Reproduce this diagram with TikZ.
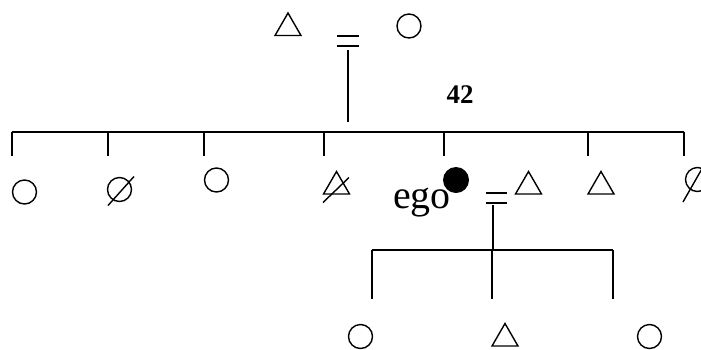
\documentclass[tikz,border=0pt]{standalone}
\usepackage{fontspec}
\setmainfont{Liberation Serif}
\usetikzlibrary{shapes.geometric}
\begin{document}
\begin{tikzpicture}[x=1bp,y=-1bp,
  kin/.style={line width=1.6bp, line cap=butt},
  sym/.style={draw, line width=1.4bp, inner sep=0pt},
  fem/.style={sym, circle, minimum size=24bp},
  male/.style={sym, regular polygon, regular polygon sides=3, minimum size=30bp},
  egodot/.style={circle, fill=black, minimum size=26bp, inner sep=0pt},
  slash/.style={line width=1.4bp}]
\useasboundingbox (0,0) rectangle (701,349);
\clip (0,0) rectangle (701,349);
% parents
\node[male] (pf) at (288,28) {};
\node[fem] (pm) at (409,26) {};
\coordinate (eqa1) at (337,36); \coordinate (eqa2) at (359,36);
\coordinate (eqb1) at (337,46); \coordinate (eqb2) at (359,46);
\draw[kin] (eqa1) -- (eqa2);
\draw[kin] (eqb1) -- (eqb2);
\coordinate (ptop) at (348,50); \coordinate (pbot) at (348,122);
\draw[kin] (ptop) -- (pbot);
\node[inner sep=0pt, anchor=base, font=\fontsize{27}{29}\selectfont\bfseries] (lbl) at (460,103) {42};
% sibling line
\coordinate (s1) at (12,132); \coordinate (s2) at (108,132); \coordinate (s3) at (204,132);
\coordinate (s4) at (324,132); \coordinate (s5) at (444,132); \coordinate (s6) at (588,132);
\coordinate (s7) at (684,132);
\draw[kin] (s1) -- (s7);
\foreach \s in {s1,s2,s3,s4,s5,s6,s7}{\draw[kin] (\s) -- ++(0,24);}
% children
\node[fem] (c1) at (24.5,192) {};
\node[fem] (c2) at (119.5,189.5) {};
\draw[slash] (c2.center) ++(-11.5,16) -- ++(26,-29);
\node[fem] (c3) at (216.5,180) {};
\node[male] (c4) at (336.5,186.5) {};
\draw[slash] (c4.center) ++(-13.5,16) -- ++(26,-25);
\node[egodot] (ego) at (456,180) {};
\node[font=\fontsize{40}{42}\selectfont, anchor=base] (egot) at (422,208) {ego};
\node[male] (c6) at (528.5,186.5) {};
\node[male] (c7) at (601,186.5) {};
\node[fem] (c8) at (697.5,179.5) {};
\draw[slash] (c8.center) ++(-14.5,22.5) -- ++(24,-42);
% ego marriage
\coordinate (eqc1) at (486,193); \coordinate (eqc2) at (507,193);
\coordinate (eqd1) at (486,203); \coordinate (eqd2) at (507,203);
\draw[kin] (eqc1) -- (eqc2);
\draw[kin] (eqd1) -- (eqd2);
\coordinate (etop) at (493,205); \coordinate (ebot) at (493,250);
\draw[kin] (etop) -- (ebot);
\coordinate (g1) at (372,250); \coordinate (g2) at (492,250); \coordinate (g3) at (613,250);
\draw[kin] (g1) -- (g3);
\foreach \g in {g1,g2,g3}{\draw[kin] (\g) -- ++(0,49);}
% grandchildren
\node[fem] (d1) at (360.5,336.5) {};
\node[male] (d2) at (505,338.5) {};
\node[fem] (d3) at (649.5,336.5) {};
\end{tikzpicture}
\end{document}
